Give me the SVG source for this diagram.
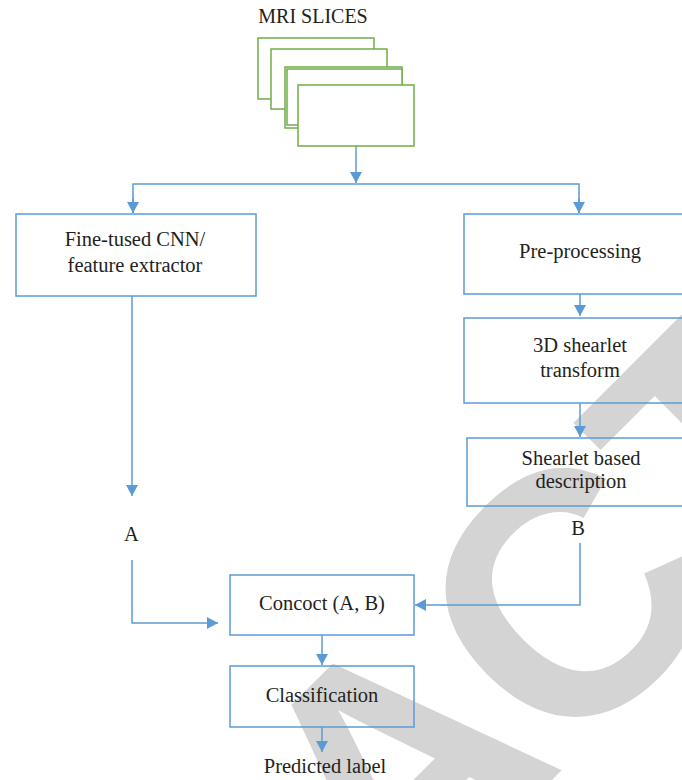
<svg xmlns="http://www.w3.org/2000/svg" width="682" height="780" viewBox="0 0 682 780">
  <style>
    .lbl { font-family: "Liberation Serif", "Times New Roman", serif; font-size: 20.5px; fill: #231f20; text-anchor: middle; }
    .box { fill: none; stroke: #5b9bd5; stroke-width: 1.5; }
    .slice { fill: #ffffff; stroke: #70ad47; stroke-width: 1.5; }
    .conn { fill: none; stroke: #5b9bd5; stroke-width: 1.5; }
    .wm { font-family: "Liberation Sans", Arial, sans-serif; font-weight: bold; font-size: 345px; fill: #d4d4d4; }
  </style>
  <defs>
    <marker id="arr" viewBox="0 0 11 12" refX="11" refY="6" markerWidth="11" markerHeight="12" markerUnits="userSpaceOnUse" orient="auto">
      <path d="M0,0 L11,6 L0,12 z" fill="#5b9bd5"/>
    </marker>
  </defs>
  <rect width="682" height="780" fill="#ffffff"/>

  <g id="watermark">
    <text class="wm" transform="translate(392,940) rotate(-45)" x="-939 -690 -460 -249 0 241 490 701 931" y="0">RETRACTED</text>
  </g>

  <g id="connectors">
    <path class="conn" d="M356,146 V183" marker-end="url(#arr)"/>
    <path class="conn" d="M133,213 V184 H579 V213" />
    <path class="conn" d="M133,198 V213" marker-end="url(#arr)"/>
    <path class="conn" d="M579,198 V213" marker-end="url(#arr)"/>
    <path class="conn" d="M132,296 V496" marker-end="url(#arr)"/>
    <path class="conn" d="M580,294 V316" marker-end="url(#arr)"/>
    <path class="conn" d="M580,403 V437" marker-end="url(#arr)"/>
    <path class="conn" d="M132,560 V623 H218" marker-end="url(#arr)"/>
    <path class="conn" d="M580,543 V605 H415" marker-end="url(#arr)"/>
    <path class="conn" d="M322,635 V665" marker-end="url(#arr)"/>
    <path class="conn" d="M322,727 V752" marker-end="url(#arr)"/>
  </g>

  <g id="mri-slices">
    <text class="lbl" x="313" y="23" style="font-size:20px">MRI SLICES</text>
    <rect class="slice" x="258" y="38" width="116" height="61"/>
    <rect class="slice" x="271" y="49" width="116" height="60"/>
    <rect class="slice" x="285" y="67" width="117" height="61"/>
    <rect class="slice" x="287" y="69" width="115" height="56"/>
    <rect class="slice" x="298" y="85" width="116" height="61"/>
  </g>

  <g id="cnn">
    <rect class="box" x="16" y="214" width="240" height="82"/>
    <text class="lbl" x="135" y="246">Fine-tused CNN/</text>
    <text class="lbl" x="135" y="272">feature extractor</text>
  </g>

  <g id="preprocessing">
    <rect class="box" x="464" y="214" width="231" height="80"/>
    <text class="lbl" x="580" y="258">Pre-processing</text>
  </g>

  <g id="shearlet-transform">
    <rect class="box" x="464" y="318" width="231" height="85"/>
    <text class="lbl" x="580" y="352">3D shearlet</text>
    <text class="lbl" x="580" y="377">transform</text>
  </g>

  <g id="shearlet-description">
    <rect class="box" x="467" y="438" width="228" height="68"/>
    <text class="lbl" x="581" y="465">Shearlet based</text>
    <text class="lbl" x="581" y="488">description</text>
  </g>

  <g id="label-a">
    <text class="lbl" x="131.5" y="541">A</text>
  </g>

  <g id="label-b">
    <text class="lbl" x="578" y="535">B</text>
  </g>

  <g id="concoct">
    <rect class="box" x="230" y="575" width="184" height="60"/>
    <text class="lbl" x="322" y="610">Concoct (A, B)</text>
  </g>

  <g id="classification">
    <rect class="box" x="230" y="666" width="184" height="61"/>
    <text class="lbl" x="322" y="702">Classification</text>
  </g>

  <g id="predicted">
    <text class="lbl" x="325" y="773">Predicted label</text>
  </g>
</svg>
